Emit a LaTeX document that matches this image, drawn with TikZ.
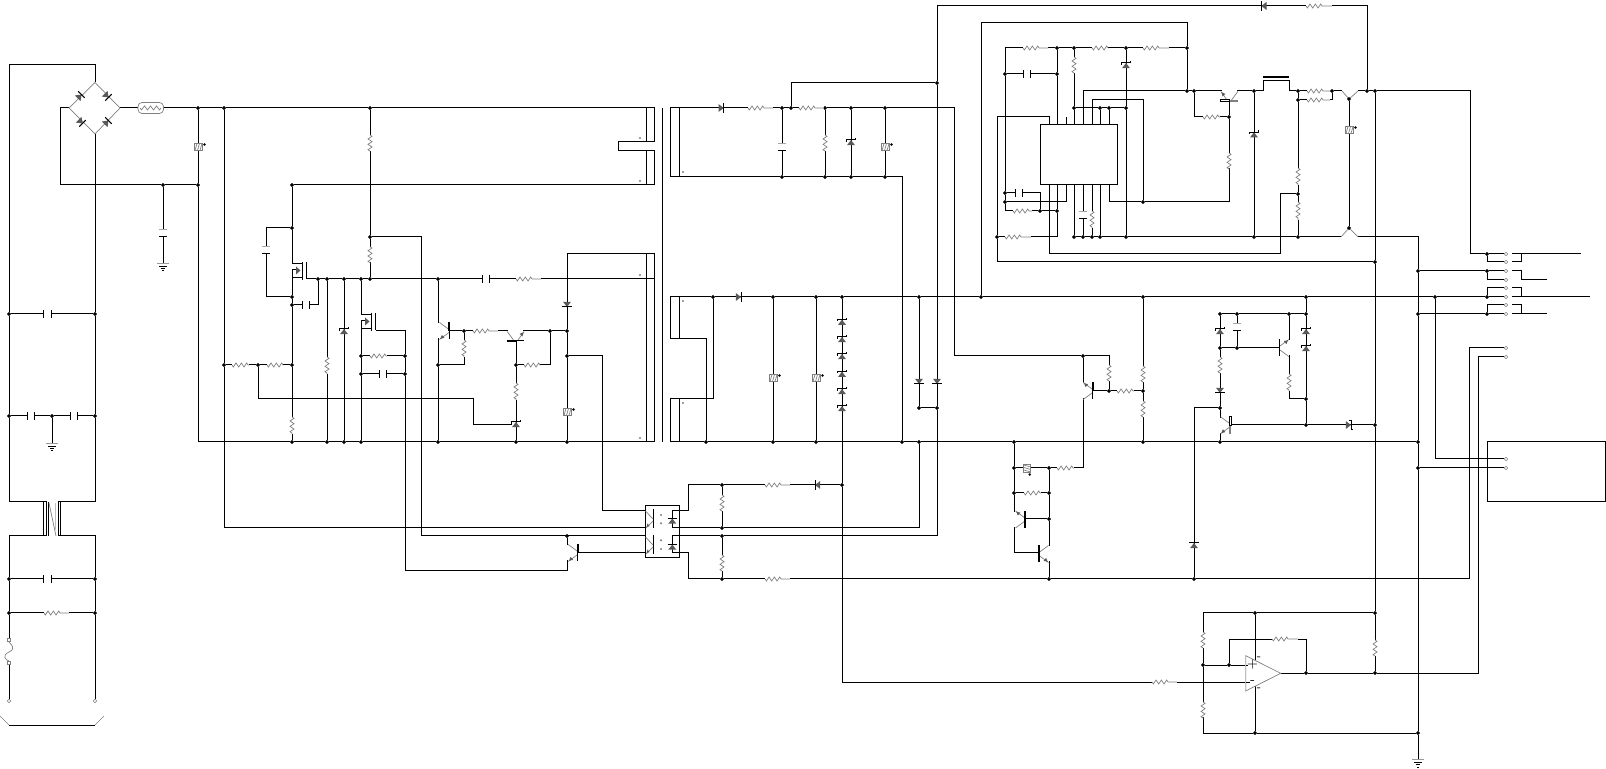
\documentclass[tikz,border=0pt]{standalone}
\usepackage{tikz}
\tikzset{
  wire/.style={line width=.5pt,black,line join=miter},
  comp/.style={line width=.35pt,black!50},
  gap/.style={white,line width=1.3pt},
  jdot/.style={circle,fill=black,draw=black,line width=.2pt,inner sep=0pt,minimum size=1.6pt},
  term/.style={circle,draw=black!50,line width=.3pt,fill=white,inner sep=0pt,minimum size=1.8pt},
  sdot/.style={circle,fill=black!50,inner sep=0pt,minimum size=1.2pt},
  sq/.style={rectangle,draw=black!50,line width=.3pt,fill=white,inner sep=0pt,minimum size=1.7pt}
}
\colorlet{dfill}{black!65}
\newcommand{\Rh}[3]{\draw[gap] (#1,#3)--(#2,#3);
  \draw[comp] (#1,#3)--++(1.33,2)--++(2.67,-4)--++(2.67,4)--++(2.67,-4)--++(2.67,4)--++(2.67,-4)--++(1.33,2)--(#2,#3);}
\newcommand{\Rv}[3]{\draw[gap] (#1,#2)--(#1,#3);
  \draw[comp] (#1,#2)--++(2,1.33)--++(-4,2.67)--++(4,2.67)--++(-4,2.67)--++(4,2.67)--++(-4,2.67)--++(2,1.33)--(#1,#3);}
\newcommand{\Ch}[3]{\draw[gap] (#1,#3)--(#2,#3);
  \draw[wire] (#1,#3)++(0,-3.9)--++(0,7.8) (#2,#3)++(0,-3.9)--++(0,7.8);}
\newcommand{\Cv}[3]{\draw[gap] (#1,#2)--(#1,#3);
  \draw[line width=.4pt,black!35] (#1,#2)++(-4.2,0)--++(8.4,0);
  \draw[wire] (#1,#3)++(-4.2,0)--++(8.4,0);}
\newcommand{\Dd}[4]{\begin{scope}[shift={(#1,#2)},rotate=#3]
  \fill[dfill] (-3.2,-4)--(-3.2,4)--(2,0)--cycle;
  \draw[wire] (2,-4.6)--(2,4.6);
  \ifnum#4=1 \draw[wire] (2,4.6)--(3.8,4.6) (2,-4.6)--(.2,-4.6);\fi
  \end{scope}}
\newcommand{\Var}[3]{\begin{scope}[shift={(#1,#2)},rotate=#3]
  \draw[comp,fill=white] (-4,-3.5) rectangle (4,3.5);
  \draw[comp] (-3,3.5)--(-1,-3.5) (-.5,3.5)--(1.5,-3.5) (2,3.5)--(4,-3.5);
  \fill[black] (6.5,-2.5) circle (.7pt);
  \end{scope}}
\newcommand{\Qt}[5]{\begin{scope}[shift={(#1,#2)},#3]
  \draw[gap] (-9.5,-7.5)--(-9.5,7.5);
  \draw[comp] (0,-1.5)--(-9.5,-8.5) (0,1.5)--(-9.5,8.5);
  \fill[dfill] (-8.8,{#4*7.9})--(-4.6,{#4*6.8})--(-7.1,{#4*3.9})--cycle;
  \ifcase#5 \draw[wire] (0,-8.5)--(0,8.5);
  \or \draw[wire] (0,-8.5)--(0,8.5); \draw[line width=1pt] (0,-8.5)--(0,0);
  \or \draw[line width=1pt] (0,-8.5)--(0,8.5);
  \or \draw[comp,line width=.6pt] (0,0)--(0,8.5); \draw[wire,fill=white] (-1,-8.5) rectangle (1,0);
  \fi
  \end{scope}}
\newcommand{\Gnd}[2]{\draw[line width=.4pt,black!40] (#1,#2)++(-6,0)--++(12,0);
  \draw[wire] (#1,#2)++(-3.6,3.3)--++(7.2,0) (#1,#2)++(-2.3,5.7)--++(4.6,0) (#1,#2)++(-1,8)--++(2,0);}
\newcommand{\Mos}[2]{% x of rail, y of top lead
  \draw[gap] (#1,#2)++(0,0)--++(0,6);
  \draw[wire] (#1,#2)--++(10,0) (#1,#2)++(0,14)--++(10,0) (#1,#2)++(0,6)--++(0,8) (#1,#2)++(0,6)--++(4.5,0)
     (#1,#2)++(10,-2)--++(0,18) (#1,#2)++(14.5,-2)--++(0,17.5);
  \fill[dfill] (#1,#2)++(4,2.5)--++(0,8)--++(4.5,-4)--cycle;}
\def\jlist{9/314,95/314,9/416,52/416,95/416,9/579,95/579,9/613,95/613,
163/185,198/108,198/185,224/108,224/365,370/108,370/237,370/279,
258/365,292/185,292/228,292/297,292/305,292/365,292/442,
318/279,327/279,344/279,361/279,327/442,344/442,361/442,361/356,361/374,405/356,405/374,
438/279,438/365,438/442,464/331,516/365,516/442,550/331,567/331,567/356,567/442,567/536,
722/485,722/528,722/536,722/579,842/485,
782/108,791/108,825/108,851/108,885/108,782/177,825/177,851/177,885/177,902/442,919/442,
713/297,773/297,816/297,842/297,919/297,981/297,1143/297,1306/297,1435/297,1487/297,
706/442,773/442,816/442,919/408,937/408,937/83,
1014/442,1143/442,1220/442,1418/442,1083/356,1109/391,1143/391,1014/468,1049/468,1014/493,1049/493,1049/519,1049/579,1194/579,1220/408,1220/314,1237/314,1289/314,1306/314,1220/348,1237/348,1306/399,1306/425,1375/425,
1005/74,1005/193,1005/202,1040/211,1057/48,1074/48,1126/48,1187/48,1057/74,1057/211,997/237,1074/108,1100/108,1109/108,1126/108,1074/237,1083/237,1092/237,1100/237,1126/237,1254/237,1298/237,1143/202,1187/91,1194/91,1254/91,1298/91,1332/91,1367/91,1375/91,1298/100,1229/117,1298/194,1349/99,1349/228,1375/262,1418/271,1418/314,1487/254,1487/271,1487/314,1418/468,1418/733,1255/613,1375/613,1255/733,1203/665,1229/665,1306/673,1375/673}
\begin{document}
\begin{tikzpicture}[x=.5pt,y=-.5pt]
\useasboundingbox (0,0) rectangle (1606,769);
% ---------- junctions
\foreach \a/\b in \jlist {\node[jdot] (j\a-\b) at (\a,\b) {};}
% terminals
\foreach \b in {254,262,271,280,288,297,305,314,348,357,459,468}
  {\node[term] (t\b) at (1506,\b) {};}
\node[term] (pl) at (9,701) {};
\node[term] (pr) at (95,701) {};
\node[sq] (fa) at (9,640) {};
\node[sq] (fb) at (9,663) {};
% bridge corners
\coordinate (bt) at (95,82.5);
\coordinate (bl) at (69,108);
\coordinate (br) at (120,108);
\coordinate (bb) at (95,134);
% boxes
\node[draw,line width=.5pt,inner sep=0pt,minimum width=38.7pt,minimum height=30pt] (ic) at (1079,155) {};
\node[draw,line width=.5pt,inner sep=0pt,minimum width=17pt,minimum height=26pt] (opto) at (662,532) {};
\node[draw,line width=.5pt,inner sep=0pt,minimum width=59.2pt,minimum height=30pt] (load) at (1546.3,472) {};
% ---------- wires: input
\draw[wire] (bt)--(95,65)--(9,65)--(j9-314)--(j9-416)--(9,502)--(46.7,502);
\draw[wire] (bb)--(j95-314)--(j95-416)--(95,502)--(58.3,502);
\draw[wire] (46.7,536)--(9,536)--(j9-579)--(j9-613)--(fa);
\draw[wire] (fb)--(pl);
\draw[wire] (58.3,536)--(95,536)--(j95-579)--(j95-613)--(pr);
\draw[wire] (j9-314)--(j95-314);
\draw[wire] (j9-416)--(j52-416)--(j95-416);
\draw[wire] (j52-416)--(52,443);
\draw[wire] (j9-579)--(j95-579);
\draw[wire] (j9-613)--(j95-613);
\draw[wire] (bl)--(60,108)--(60,185)--(j163-185)--(j198-185);
\draw[wire] (br)--(j198-108)--(j224-108)--(j370-108)--(654,108)--(654,142)--(618,142)--(618,151)--(654,151)--(654,185)--(j292-185);
\draw[wire] (j198-108)--(j198-185)--(198,442)--(j292-442)--(j327-442)--(j344-442)--(j361-442)--(j438-442)--(j516-442)--(j567-442)--(654,442)--(654,254)--(567,254)--(j567-331)--(j567-356)--(j567-442);
\draw[wire] (646,254)--(646,442) (646,108)--(646,142) (646,151)--(646,185);
\draw[wire] (307,279)--(j318-279)--(j327-279)--(j344-279)--(j361-279)--(j370-279)--(j438-279)--(654,279);
\draw[wire] (j224-108)--(j224-365)--(224,528)--(645,528);
\draw[wire] (j163-185)--(163,263);
% MOSFET leads
\draw[wire] (j292-185)--(j292-228)--(292,264);
\draw[wire] (292,278)--(j292-297)--(j292-305)--(j292-365)--(j292-442);
\draw[wire] (j292-228)--(266,228)--(266,297)--(j292-297);
\draw[wire] (j292-305)--(318,305)--(j318-279);
\draw[wire] (j224-365)--(j258-365)--(j292-365);
\draw[wire] (j258-365)--(258,399)--(473,399)--(473,425)--(512,425);
\draw[wire] (j327-279)--(j327-442);
\draw[wire] (j344-279)--(j344-442);
\draw[wire] (j361-279)--(361,315);
\draw[wire] (361,329)--(j361-356)--(j361-374)--(j361-442);
\draw[wire] (j370-108)--(j370-237)--(j370-279);
\draw[wire] (j370-237)--(421,237)--(421,536)--(645,536);
\draw[wire] (376,331)--(405,331)--(j405-356)--(j405-374)--(405,571)--(567,571)--(j567-536);
\draw[wire] (j361-356)--(j405-356);
\draw[wire] (j361-374)--(j405-374);
\draw[wire] (j438-279)--(j438-365)--(j438-442);
\draw[wire] (449,331)--(j464-331)--(j550-331)--(j567-331);
\draw[wire] (j464-331)--(464,365)--(j438-365);
\draw[wire] (516,341)--(j516-365)--(j516-442);
\draw[wire] (j516-365)--(550,365)--(j550-331);
\draw[wire] (j567-356)--(602,356)--(602,511)--(645,511);
\draw[wire] (645,553)--(578,553);
% ---------- opto right side
\draw[wire] (679,511)--(672,511)--(672,528)--(679,528) (679,536)--(672,536)--(672,553)--(679,553);
\draw[wire] (679,511)--(688,511)--(688,485)--(j722-485)--(j842-485);
\draw[wire] (j722-485)--(j722-528);
\draw[wire] (679,553)--(688,553)--(688,579)--(j722-579)--(j1049-579)--(j1194-579)--(1469,579)--(1469,348)--(t348);
\draw[wire] (j722-536)--(j722-579);
\draw[wire] (679,536)--(j722-536)--(937,536)--(j937-408)--(j937-83)--(937,6)--(1367,6)--(j1367-91);
\draw[wire] (679,528)--(j722-528)--(919,528)--(j919-442);
% ---------- secondaries
\draw[wire] (662.7,108)--(662.7,442);
\draw[wire] (670,177)--(670,108)--(j782-108)--(j791-108)--(j825-108)--(j851-108)--(j885-108)--(954,108)--(954,356)--(j1083-356)--(1109,356)--(j1109-391);
\draw[wire] (670,177)--(j782-177)--(j825-177)--(j851-177)--(j885-177)--(902,177)--(j902-442);
\draw[wire] (679,108)--(679,176);
\draw[wire] (j782-108)--(j782-177);
\draw[wire] (j825-108)--(j825-177);
\draw[wire] (j851-108)--(j851-177);
\draw[wire] (j885-108)--(j885-177);
\draw[wire] (j791-108)--(791,83)--(j937-83);
\draw[wire] (670,339)--(670,297)--(j713-297)--(j773-297)--(j816-297)--(j842-297)--(j919-297)--(j981-297)--(j1143-297)--(j1306-297)--(j1435-297)--(j1487-297)--(t297);
\draw[wire] (1512,297)--(1590,297);
\draw[wire] (670,339)--(706,339)--(j706-442);
\draw[wire] (670,399)--(713,399)--(j713-297);
\draw[wire] (670,399)--(670,442)--(j706-442)--(j773-442)--(j816-442)--(j902-442)--(j919-442)--(j1014-442)--(j1143-442)--(j1220-442)--(j1418-442);
\draw[wire] (679,297)--(679,339) (679,399)--(679,442);
\draw[wire] (j773-297)--(j773-442);
\draw[wire] (j816-297)--(j816-442);
\draw[wire] (j842-297)--(j842-485)--(842,682)--(1246,682);
\draw[wire] (j919-297)--(j919-408)--(j937-408);
\draw[wire] (j981-297)--(981,23)--(1187,23)--(j1187-48)--(j1187-91);
% ---------- controller IC
\draw[wire] (j1057-48)--(1005,48)--(j1005-74)--(j1005-193)--(j1005-202)--(1005,211)--(j1040-211)--(j1057-211);
\draw[wire] (j1057-48)--(j1074-48)--(j1126-48)--(j1187-48);
\draw[wire] (j1005-74)--(j1057-74);
\draw[wire] (j1057-48)--(j1057-74)--(1057,125);
\draw[wire] (1057,185)--(j1057-211)--(1057,237)--(j997-237);
\draw[wire] (1049,125)--(1049,117)--(997,117)--(j997-237)--(997,262)--(j1375-262);
\draw[wire] (1066,125)--(1066,117);
\draw[wire] (j1074-48)--(j1074-108)--(1074,125);
\draw[wire] (1083,125)--(1083,91)--(j1187-91)--(j1194-91)--(j1254-91)--(1263,91)--(1263,80.3)--(1289,80.3)--(1289,91)--(j1298-91)--(j1332-91)--(1342,91);
\draw[wire] (1358,91)--(j1367-91)--(j1375-91)--(1470,91)--(1470,254)--(j1487-254)--(t254);
\draw[wire] (1092,125)--(1092,100)--(1143,100)--(j1143-202);
\draw[wire] (1100,125)--(j1100-108);
\draw[wire] (1109,125)--(j1109-108);
\draw[wire] (j1074-108)--(j1100-108)--(j1109-108)--(j1126-108);
\draw[wire] (j1126-48)--(j1126-108)--(j1126-237);
\draw[wire] (1049,185)--(1049,254)--(1280,254)--(1280,194)--(j1298-194);
\draw[wire] (1066,185)--(1066,202)--(j1005-202);
\draw[wire] (1074,185)--(j1074-237);
\draw[wire] (1083,185)--(j1083-237);
\draw[wire] (1092,185)--(j1092-237);
\draw[wire] (1100,185)--(j1100-237);
\draw[wire] (1109,185)--(1109,202)--(j1143-202)--(1229,202)--(j1229-117)--(1229,101);
\draw[wire] (j1074-237)--(j1083-237)--(j1092-237)--(j1100-237)--(j1126-237)--(j1254-237)--(j1298-237)--(1341,237);
\draw[wire] (1358,237)--(1418,237)--(j1418-271)--(j1418-314)--(j1418-442)--(j1418-468)--(j1418-733)--(1418,759);
\draw[wire] (j1005-193)--(1040,193)--(j1040-211);
\draw[wire] (j1194-91)--(1194,117)--(j1229-117);
\draw[wire] (j1254-91)--(j1254-237);
\draw[wire] (j1298-91)--(j1298-100)--(j1298-194)--(j1298-237);
\draw[wire] (j1298-100)--(1332,100)--(j1332-91);
\draw[wire] (j1349-99)--(j1349-228);
\draw[wire] (j1375-91)--(j1375-262)--(j1375-425)--(j1375-613)--(j1375-673);
\draw[line width=.8pt] (1263,76.8)--(1289,76.8);
% output connector
\draw[wire] (j1418-271)--(j1487-271)--(t271);
\draw[wire] (j1418-314)--(j1487-314)--(t314);
\draw[wire] (j1487-254)--(1487,262)--(t262);
\draw[wire] (j1487-271)--(1487,280)--(t280);
\draw[wire] (j1487-297)--(1487,288)--(t288);
\draw[wire] (j1487-314)--(1487,305)--(t305);
\draw[wire] (1512,254)--(1581,254) (1512,262)--(1521,262)--(1521,254);
\draw[wire] (1512,271)--(1521,271)--(1521,280)--(1547,280);
\draw[wire] (1512,288)--(1521,288)--(1521,297);
\draw[wire] (1512,305)--(1521,305)--(1521,314) (1512,314)--(1547,314);
\draw[wire] (j1435-297)--(1435,459)--(t459);
\draw[wire] (j1418-468)--(t468);
% ---------- lower right
\draw[wire] (j1143-297)--(j1143-391)--(j1143-442);
\draw[wire] (j1083-356)--(1083,468)--(j1049-468)--(j1014-468);
\draw[wire] (j1014-442)--(j1014-468)--(j1014-493)--(1014,553)--(1039,553);
\draw[wire] (j1049-468)--(j1049-493)--(j1049-519)--(j1049-579);
\draw[wire] (j1049-493)--(j1014-493);
\draw[wire] (j1049-519)--(1025,519);
\draw[wire] (j1109-391)--(1093,391);
\draw[wire] (j1109-391)--(j1143-391);
\draw[wire] (j1220-314)--(j1220-348)--(j1220-408)--(j1220-442);
\draw[wire] (j1194-579)--(1194,408)--(j1220-408);
\draw[wire] (j1220-314)--(j1237-314)--(j1289-314)--(j1306-314);
\draw[wire] (j1306-297)--(j1306-314)--(j1306-399)--(j1306-425);
\draw[wire] (j1237-314)--(j1237-348);
\draw[wire] (j1220-348)--(j1237-348)--(1279,348);
\draw[wire] (j1289-314)--(1289,399)--(j1306-399);
\draw[wire] (1230,425)--(j1306-425)--(j1375-425);
% ---------- op amp block
\draw[wire] (j1375-613)--(j1255-613)--(1203,613)--(j1203-665)--(1203,733)--(j1255-733)--(j1418-733);
\draw[wire] (j1255-613)--(1255,660) (1255,686)--(j1255-733);
\draw[wire] (j1203-665)--(j1229-665)--(1246,665);
\draw[wire] (j1229-665)--(1229,639)--(1306,639)--(j1306-673);
\draw[wire] (1281,673)--(j1306-673)--(j1375-673)--(1478,673)--(1478,357)--(t357);
% ---------- components
\draw[comp,line join=miter] (bt)--(br)--(bb)--(bl)--cycle;
\Dd{80}{96}{45}{0} \Dd{107}{96}{-45}{0} \Dd{81}{122}{-45}{0} \Dd{107}{122}{45}{0}
\draw[comp,rounded corners=2pt,fill=white] (138,102.5) rectangle (163.5,113.5);
\draw[comp] (140,108)--++(1.5,2)--++(3,-4)--++(3,4)--++(3,-4)--++(3,4)--++(3,-4)--++(3,4)--(161,108);
\Var{198}{147}{0}
\Cv{163}{229}{236.7}\Gnd{163}{263}
\Ch{43.7}{51.7}{314}
\Ch{27}{34.3}{416} \Ch{70}{77}{416}\Gnd{52}{443}
% mains transformer
\draw[wire] (43.5,502)--(43.5,536) (46.7,502)--(46.7,536) (48.3,502)--(48.3,536) (58.3,502)--(58.3,536) (60.7,502)--(60.7,536);
\draw[comp] (49,503)--(56,536);
\draw[line width=.5pt,black!25] (55,503)--(55,530);
\Ch{43.7}{51.7}{579}
\Rh{44}{69}{613}
\draw[gap] (9,642)--(9,661);
\draw[comp] (9,642) .. controls (17,650) and (10,651) .. (9,652) .. controls (1,656) and (6,660) .. (9,661);
\draw[comp] (0,716)--(9,725) (95,725)--(104,716);
\draw[wire] (9,725)--(95,725);
% primary side
\Mos{292}{264}
\Mos{361}{315}
\Cv{266}{246.7}{253.3}
\Ch{302.3}{309.3}{305}
\Rh{232}{249}{365} \Rh{267}{283}{365}
\Rv{292}{417}{434}
\Rv{327}{357}{374}
\Dd{344}{331}{90}{1}
\Rv{370}{135}{151} \Rv{370}{246.7}{262}
\Rh{370}{387}{356} \Ch{379.3}{386.7}{374}
\Ch{482}{489.3}{279} \Rh{516}{541}{279}
\Qt{449}{331}{}{1}{1}
\Rv{464}{340}{357}
\Rh{473}{498}{331}
\Qt{515.7}{341}{rotate=-90,yscale=-1}{1}{1}
\Rh{524}{540}{365}
\Rv{516}{383}{400}
\Dd{516}{424}{90}{1}
\Dd{567}{305}{270}{0}
\Var{567}{412}{0}
\Qt{577.7}{553}{}{1}{1}
% opto internals
\draw[wire] (653.3,509)--(653.3,528) (653.3,535)--(653.3,554);
\draw[comp] (645.5,511)--(653,519) (653,521)--(646,528) (645.5,537)--(653,545) (653,547)--(646,554);
\fill[dfill] (646.5,527)--(649.5,526)--(647.5,523.5)--cycle (646.5,553)--(649.5,552)--(647.5,549.5)--cycle;
\node[sdot] (oa) at (661,515) {};
\node[sdot] (ob) at (661,523.3) {};
\node[sdot] (oc) at (661,540.3) {};
\node[sdot] (od) at (661,549) {};
\Dd{672.3}{520.5}{90}{0} \Dd{672.3}{546.5}{90}{0}
\Rv{722}{495}{511} \Rv{722}{555}{571}
\Rh{765}{790}{485} \Dd{817}{485}{180}{0}
\Rh{765}{790}{579}
% transformer marks
\node[sdot] (m1) at (640,138) {};
\node[sdot] (m2) at (640,181) {};
\node[sdot] (m3) at (640,275) {};
\node[sdot] (m4) at (640,438) {};
\node[sdot] (m5) at (683,172) {};
\node[sdot] (m6) at (683,301) {};
\node[sdot] (m7) at (683,403) {};
% secondaries
\Dd{721.7}{108}{0}{0}
\Rh{748}{773}{108}
\Rh{799}{825}{108}
\Cv{782}{143.3}{150.3}
\Rv{825}{135}{151}
\Dd{851}{142}{90}{1}
\Var{885}{147}{0}
\Dd{739}{297}{0}{0}
\Var{773}{378}{0} \Var{816}{378}{0}
\foreach \y in {321.7,339,356,373.7,391,408} {\Dd{842}{\y}{90}{1}}
\Dd{919}{382}{270}{0} \Dd{937}{382}{270}{0}
\Dd{1263.3}{6}{180}{0} \Rh{1306}{1332}{6}
% IC block
\Rh{1023}{1048}{48} \Rh{1092}{1108}{48} \Rh{1143}{1169}{48}
\Ch{1023.3}{1030.3}{74}
\Rv{1074}{57}{73}
\Dd{1126}{65}{90}{1}
\Ch{1015}{1022.3}{193}
\Rh{1013}{1032}{211}
\Rh{1005}{1031}{237}
\Cv{1083}{211}{219}
\Rv{1092}{211}{228}
\Qt{1229.3}{101}{rotate=-90,yscale=-1}{-1}{3}
\Rh{1203}{1220}{117}
\Rv{1229}{153}{168}
\Dd{1254}{134.3}{90}{1}
\Rv{1298}{168}{185} \Rv{1298}{202}{220}
\Rh{1307}{1330}{91} \Rh{1307}{1330}{100}
\draw[comp] (1342,91)--(j1349-99)--(1358,91);
\draw[comp] (1341,237)--(j1349-228)--(1358,237);
\Var{1349}{130}{0}
% lower right
\Rv{1143}{366}{382} \Rv{1143}{401}{417}
\Rv{1109}{365}{381}
\Rh{1117}{1134}{391}
\Qt{1092.7}{391}{}{-1}{1}
\Rh{1057}{1074}{468}
\Var{1027.3}{468}{-90}
\Rh{1024}{1041}{493}
\Qt{1025}{519.5}{}{-1}{2}
\Qt{1039}{554}{xscale=-1}{1}{2}
\Dd{1194}{545}{90}{0}
\Qt{1230}{425.3}{}{1}{3}
\Dd{1220}{331}{90}{1} \Dd{1306}{331}{90}{1} \Dd{1306}{348}{90}{1}
\Rv{1220}{357}{373}
\Dd{1220}{391}{270}{0}
\Cv{1237}{323.3}{330.7}
\Qt{1279.3}{348}{xscale=-1}{-1}{0}
\Rv{1289}{374}{391}
\Dd{1349}{425}{0}{1}
% op amp
\Rv{1203}{632}{648} \Rv{1203}{702}{717}
\Rh{1152}{1177}{682}
\Rh{1272}{1298}{639}
\Rv{1375}{640}{656}
\draw[comp,fill=white] (1245.7,655.7)--(1280.7,673.3)--(1245.7,691)--cycle;
\draw[line width=.6pt,black!25] (1245.7,655.7)--(1245.7,691);
\draw[wire] (1246,665)--(1248,665) (1246,682)--(1250,682);
\node[inner sep=0pt,font=\fontsize{6}{6}\selectfont] (oplus) at (1252.5,665) {+};
\node[inner sep=0pt,font=\fontsize{6}{6}\selectfont] (ominus) at (1252.5,682) {-};
\node[inner sep=0pt,font=\fontsize{5}{5}\selectfont] (vpos) at (1259,658) {-};
\node[inner sep=0pt,font=\fontsize{5}{5}\selectfont] (vneg) at (1259,689) {-};
\Gnd{1418}{759}
% junction dots on top
\foreach \a/\b in \jlist {\fill[black] (j\a-\b.center) circle (.85pt);}
\end{tikzpicture}
\end{document}
